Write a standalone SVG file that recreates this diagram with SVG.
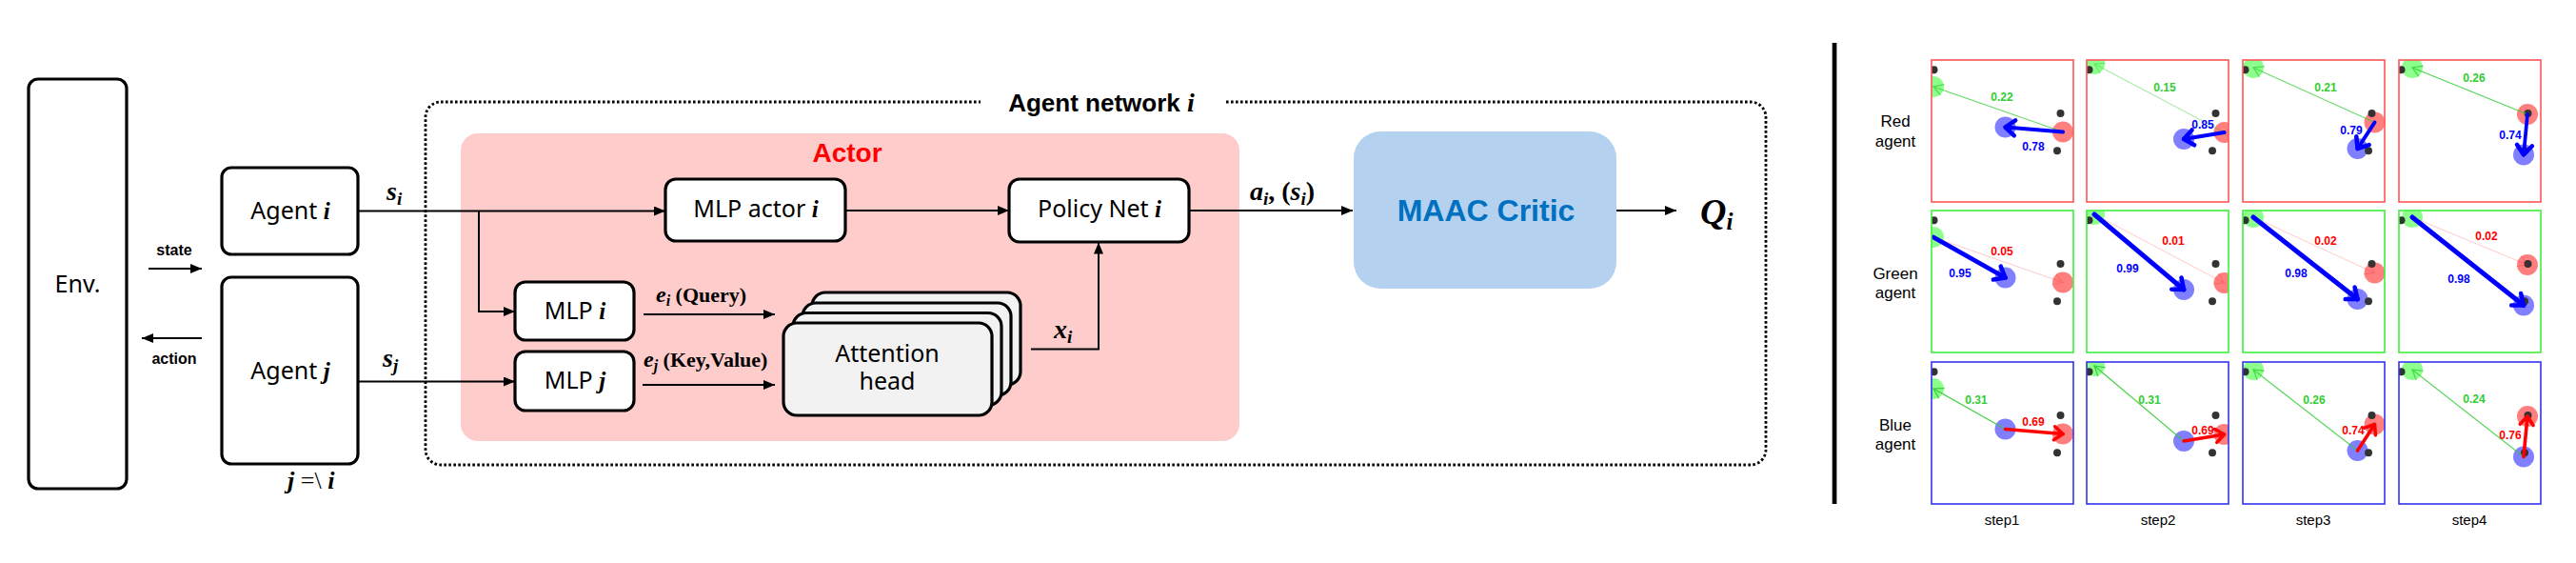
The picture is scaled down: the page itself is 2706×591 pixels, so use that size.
<svg xmlns="http://www.w3.org/2000/svg" width="2706" height="591" viewBox="0 0 2706 591">
<style>
.bx{fill:#fff;stroke:#000;stroke-width:3.2}
.nl{font-family:"Noto Sans","Liberation Sans",sans-serif;font-size:25px;fill:#000}
.mi{font-family:"Liberation Serif",serif;font-style:italic;font-weight:bold}
.mr{font-family:"Liberation Serif",serif;font-weight:bold}
.cn{fill:none;stroke:#000;stroke-width:2}
.sl{font-family:"Liberation Sans",sans-serif;font-weight:bold;font-size:16px;fill:#000}
.rl{font-family:"Liberation Sans",sans-serif;font-size:17px;fill:#000;text-anchor:middle}
.st{font-family:"Liberation Sans",sans-serif;font-size:15px;fill:#000;text-anchor:middle}
.lb{font-family:"Liberation Sans",sans-serif;font-weight:bold;font-size:12px;text-anchor:middle}
.att{fill:#f2f2f2;stroke:#000;stroke-width:3.2}
.G{fill:#00ff00;fill-opacity:.45}
.B{fill:#0000ff;fill-opacity:.5}
.R{fill:#ff0000;fill-opacity:.5}
.L{fill:#333}
.ab{fill:none;stroke:#0000ff;stroke-linecap:round;marker-end:url(#mb)}
.ag{fill:none;stroke:#33cc33;stroke-width:1.2;marker-end:url(#mg)}
.ar{fill:none;stroke:#ff0000;stroke-width:3.6;stroke-linecap:round;marker-end:url(#mr)}
.af{fill:none;stroke:#ff0000;stroke-width:1;marker-end:url(#mf)}
.cR{fill:none;stroke:#ff5555;stroke-width:1.6}
.cG{fill:none;stroke:#3cf03c;stroke-width:1.6}
.cB{fill:none;stroke:#3333ee;stroke-width:1.6}
.tg{fill:#33cc33}.tb{fill:#0000ff}.tr{fill:#ff0000}
</style>
<defs>
<marker id="ah" viewBox="0 0 12 10" refX="12" refY="5" markerWidth="12" markerHeight="10" markerUnits="userSpaceOnUse" orient="auto"><path d="M0,0 L12,5 L0,10 z" fill="#000"/></marker>
<marker id="mb" markerUnits="userSpaceOnUse" orient="auto" refX="0" refY="0" markerWidth="30" markerHeight="30" style="overflow:visible"><path d="M-10,-8 L0,0 L-10,8" fill="none" stroke="#0000ff" stroke-width="4.5" stroke-linejoin="round" stroke-linecap="round"/></marker>
<marker id="mg" markerUnits="userSpaceOnUse" orient="auto" refX="0" refY="0" markerWidth="30" markerHeight="30" style="overflow:visible"><path d="M-10,-6 L0,0 L-10,6" fill="none" stroke="#33cc33" stroke-width="1.2"/></marker>
<marker id="mr" markerUnits="userSpaceOnUse" orient="auto" refX="0" refY="0" markerWidth="30" markerHeight="30" style="overflow:visible"><path d="M-9,-7 L0,0 L-9,7" fill="none" stroke="#ff0000" stroke-width="3.5" stroke-linejoin="round" stroke-linecap="round"/></marker>
<marker id="mf" markerUnits="userSpaceOnUse" orient="auto" refX="0" refY="0" markerWidth="30" markerHeight="30" style="overflow:visible"><path d="M-10,-6 L0,0 L-10,6" fill="none" stroke="#ff0000" stroke-width="1"/></marker>
<clipPath id="cc"><rect x="0" y="0" width="149" height="149"/></clipPath>
</defs>
<rect width="2706" height="591" fill="#fff"/>

<!-- Agent network container -->
<g id="agent-network">
<rect x="447" y="107" width="1408" height="381" rx="16" fill="none" stroke="#000" stroke-width="2.8" stroke-dasharray="2.6 2.4"/>
<rect x="1030" y="94" width="257" height="28" fill="#fff"/>
<text x="1157" y="117" text-anchor="middle" font-family="Liberation Sans,sans-serif" font-weight="bold" font-size="26">Agent network <tspan class="mi" font-size="28">i</tspan></text>
</g>

<g id="actor">
<rect x="484" y="140" width="818" height="323" rx="18" fill="#ffcccc"/>
<text x="890" y="170" text-anchor="middle" font-family="Liberation Sans,sans-serif" font-weight="bold" font-size="28" fill="#ff0000">Actor</text>
</g>

<g id="env"><rect class="bx" x="30" y="83" width="103" height="430" rx="10"/><text class="nl" x="81.5" y="307" text-anchor="middle" font-size="27">Env.</text></g>
<g id="agent-i"><rect class="bx" x="233" y="176" width="143" height="91" rx="10"/><text class="nl" x="305" y="230" text-anchor="middle" font-size="27">Agent <tspan class="mi">i</tspan></text></g>
<g id="agent-j"><rect class="bx" x="233" y="291" width="143" height="196" rx="10"/><text class="nl" x="305" y="398" text-anchor="middle" font-size="27">Agent <tspan class="mi">j</tspan></text></g>
<g id="mlp-actor"><rect class="bx" x="699" y="188" width="189" height="65" rx="11"/><text class="nl" x="794" y="228" text-anchor="middle">MLP actor <tspan class="mi">i</tspan></text></g>
<g id="policy"><rect class="bx" x="1060" y="188" width="189" height="66" rx="11"/><text class="nl" x="1155" y="228" text-anchor="middle">Policy Net <tspan class="mi">i</tspan></text></g>
<g id="mlp-i"><rect class="bx" x="541" y="296" width="125" height="61" rx="11"/><text class="nl" x="604" y="335" text-anchor="middle">MLP <tspan class="mi">i</tspan></text></g>
<g id="mlp-j"><rect class="bx" x="541" y="369" width="125" height="62" rx="11"/><text class="nl" x="604" y="408" text-anchor="middle">MLP <tspan class="mi">j</tspan></text></g>
<g id="attention">
<rect class="att" x="853" y="307" width="219" height="97" rx="14"/>
<rect class="att" x="843" y="318" width="219" height="97" rx="14"/>
<rect class="att" x="833" y="328.5" width="219" height="97" rx="14"/>
<rect class="att" x="823" y="339" width="219" height="97" rx="14"/>
<text class="nl" x="932" y="380" text-anchor="middle" font-size="24.5">Attention</text>
<text class="nl" x="932" y="409" text-anchor="middle" font-size="24.5">head</text>
</g>
<g id="critic"><rect x="1422" y="138" width="276" height="165" rx="28" fill="#b4d2f0"/><text x="1561" y="232" text-anchor="middle" font-family="Liberation Sans,sans-serif" font-weight="bold" font-size="32" fill="#0070c0">MAAC Critic</text></g>

<g id="connectors">
<path class="cn" d="M156,282 H212" marker-end="url(#ah)"/>
<path class="cn" d="M212,355 H149" marker-end="url(#ah)"/>
<path class="cn" d="M376,221.5 H699" marker-end="url(#ah)"/>
<path class="cn" d="M503,221.5 V327 H541" marker-end="url(#ah)"/>
<path class="cn" d="M376,400.5 H541" marker-end="url(#ah)"/>
<path class="cn" d="M676,330 H814" marker-end="url(#ah)"/>
<path class="cn" d="M675,404 H814" marker-end="url(#ah)"/>
<path class="cn" d="M888,221 H1060" marker-end="url(#ah)"/>
<path class="cn" d="M1083,366.5 H1154 V254.5" marker-end="url(#ah)"/>
<path class="cn" d="M1249,221 H1421" marker-end="url(#ah)"/>
<path class="cn" d="M1698,221 H1761" marker-end="url(#ah)"/>
</g>

<g id="labels">
<text class="sl" x="183" y="268" text-anchor="middle">state</text>
<text class="sl" x="183" y="382" text-anchor="middle">action</text>
<text x="406" y="210" font-size="28"><tspan class="mi">s</tspan><tspan class="mi" font-size="19" dy="5">i</tspan></text>
<text x="402" y="385" font-size="28"><tspan class="mi">s</tspan><tspan class="mi" font-size="19" dy="5">j</tspan></text>
<text x="302" y="513" font-size="26" font-family="Liberation Serif,serif"><tspan font-style="italic" font-weight="bold">j</tspan> =\ <tspan font-style="italic" font-weight="bold">i</tspan></text>
<text x="689" y="317" font-size="24"><tspan class="mi">e</tspan><tspan class="mi" font-size="16" dy="4">i</tspan><tspan class="mr" font-size="22" dy="-4"> (Query)</tspan></text>
<text x="676" y="385" font-size="24"><tspan class="mi">e</tspan><tspan class="mi" font-size="16" dy="4">j</tspan><tspan class="mr" font-size="22" dy="-4"> (Key,Value)</tspan></text>
<text x="1107" y="355" font-size="28"><tspan class="mi">x</tspan><tspan class="mi" font-size="19" dy="5">i</tspan></text>
<text x="1313" y="210" font-size="28"><tspan class="mi">a</tspan><tspan class="mi" font-size="19" dy="5">i</tspan><tspan class="mr" dy="-5">, (</tspan><tspan class="mi">s</tspan><tspan class="mi" font-size="19" dy="5">i</tspan><tspan class="mr" dy="-5">)</tspan></text>
<text x="1786" y="235" font-size="38"><tspan class="mi">Q</tspan><tspan class="mi" font-size="25" dy="6">i</tspan></text>
</g>

<!-- Right panel -->
<rect id="divider" x="1924.7" y="45" width="4.7" height="484" fill="#000"/>
<g id="row-labels">
<text class="rl" x="1991" y="133">Red</text><text class="rl" x="1991" y="154">agent</text>
<text class="rl" x="1991" y="293">Green</text><text class="rl" x="1991" y="313">agent</text>
<text class="rl" x="1991" y="452">Blue</text><text class="rl" x="1991" y="472">agent</text>
<text class="st" x="2103" y="551">step1</text>
<text class="st" x="2267" y="551">step2</text>
<text class="st" x="2430" y="551">step3</text>
<text class="st" x="2594" y="551">step4</text>
</g>

<!-- Red row -->
<g id="red-step1" transform="translate(2029,63)">
<g clip-path="url(#cc)">
<circle class="G" cx="2" cy="28" r="11"/><circle class="B" cx="77.5" cy="70.5" r="11"/><circle class="R" cx="138" cy="75.5" r="11"/>
<circle class="L" cx="2.5" cy="10.3" r="4"/><circle class="L" cx="135.5" cy="56" r="4"/><circle class="L" cx="132" cy="95.3" r="4"/>
<g opacity=".7"><path class="ag" d="M138,75.5 L2,28"/></g>
<path class="ab" stroke-width="4" d="M138,75.5 L77.5,70.5"/>
</g>
<rect class="cR" width="149" height="149"/>
<text class="lb tg" x="74" y="43">0.22</text><text class="lb tb" x="107" y="94.5">0.78</text>
</g>
<g id="red-step2" transform="translate(2192,63)">
<g clip-path="url(#cc)">
<circle class="G" cx="8" cy="4" r="11"/><circle class="B" cx="102" cy="83" r="11"/><circle class="R" cx="144.5" cy="76" r="11"/>
<circle class="L" cx="2.5" cy="10.3" r="4"/><circle class="L" cx="135.5" cy="56" r="4"/><circle class="L" cx="132" cy="95.3" r="4"/>
<g opacity=".4"><path class="ag" d="M144.5,76 L8,4"/></g>
<path class="ab" stroke-width="4.2" d="M144.5,76 L102,83"/>
</g>
<rect class="cR" width="149" height="149"/>
<text class="lb tg" x="82" y="33">0.15</text><text class="lb tb" x="122" y="72">0.85</text>
</g>
<g id="red-step3" transform="translate(2356,63)">
<g clip-path="url(#cc)">
<circle class="G" cx="11" cy="8" r="11"/><circle class="B" cx="120.5" cy="93" r="11"/><circle class="R" cx="138.5" cy="65.5" r="11"/>
<circle class="L" cx="2.5" cy="10.3" r="4"/><circle class="L" cx="135.5" cy="56" r="4"/><circle class="L" cx="132" cy="95.3" r="4"/>
<g opacity=".7"><path class="ag" d="M138.5,65.5 L11,8"/></g>
<path class="ab" stroke-width="4" d="M138.5,65.5 L120.5,93"/>
</g>
<rect class="cR" width="149" height="149"/>
<text class="lb tg" x="87" y="33">0.21</text><text class="lb tb" x="114" y="78">0.79</text>
</g>
<g id="red-step4" transform="translate(2520,63)">
<g clip-path="url(#cc)">
<circle class="G" cx="14" cy="8" r="11"/><circle class="B" cx="131" cy="99.5" r="11"/><circle class="R" cx="135" cy="57" r="11"/>
<circle class="L" cx="2.5" cy="10.3" r="4"/><circle class="L" cx="135.5" cy="56" r="4"/><circle class="L" cx="132" cy="95.3" r="4"/>
<g opacity=".8"><path class="ag" d="M135,57 L14,8"/></g>
<path class="ab" stroke-width="3.7" d="M135,57 L131,99.5"/>
</g>
<rect class="cR" width="149" height="149"/>
<text class="lb tg" x="79" y="23">0.26</text><text class="lb tb" x="117" y="83">0.74</text>
</g>

<!-- Green row -->
<g id="green-step1" transform="translate(2029,221)">
<g clip-path="url(#cc)">
<circle class="G" cx="2" cy="28" r="11"/><circle class="B" cx="77.5" cy="70.5" r="11"/><circle class="R" cx="138" cy="75.5" r="11"/>
<circle class="L" cx="2.5" cy="10.3" r="4"/><circle class="L" cx="135.5" cy="56" r="4"/><circle class="L" cx="132" cy="95.3" r="4"/>
<g opacity=".2"><path class="af" d="M2,28 L138,75.5"/></g>
<path class="ab" stroke-width="4.8" d="M2,28 L77.5,70.5"/>
</g>
<rect class="cG" width="149" height="149"/>
<text class="lb tr" x="74" y="46.5">0.05</text><text class="lb tb" x="30" y="70">0.95</text>
</g>
<g id="green-step2" transform="translate(2192,221)">
<g clip-path="url(#cc)">
<circle class="G" cx="8" cy="4" r="11"/><circle class="B" cx="102" cy="83" r="11"/><circle class="R" cx="144.5" cy="76" r="11"/>
<circle class="L" cx="2.5" cy="10.3" r="4"/><circle class="L" cx="135.5" cy="56" r="4"/><circle class="L" cx="132" cy="95.3" r="4"/>
<g opacity=".2"><path class="af" d="M8,4 L144.5,76"/></g>
<path class="ab" stroke-width="5" d="M8,4 L102,83"/>
</g>
<rect class="cG" width="149" height="149"/>
<text class="lb tr" x="91" y="36">0.01</text><text class="lb tb" x="43" y="65">0.99</text>
</g>
<g id="green-step3" transform="translate(2356,221)">
<g clip-path="url(#cc)">
<circle class="G" cx="11" cy="7" r="11"/><circle class="B" cx="120.5" cy="93" r="11"/><circle class="R" cx="138.5" cy="65.5" r="11"/>
<circle class="L" cx="2.5" cy="10.3" r="4"/><circle class="L" cx="135.5" cy="56" r="4"/><circle class="L" cx="132" cy="95.3" r="4"/>
<g opacity=".2"><path class="af" d="M11,7 L138.5,65.5"/></g>
<path class="ab" stroke-width="5" d="M11,7 L120.5,93"/>
</g>
<rect class="cG" width="149" height="149"/>
<text class="lb tr" x="87" y="36">0.02</text><text class="lb tb" x="56" y="70">0.98</text>
</g>
<g id="green-step4" transform="translate(2520,221)">
<g clip-path="url(#cc)">
<circle class="G" cx="14" cy="7" r="11"/><circle class="B" cx="131" cy="99.5" r="11"/><circle class="R" cx="135" cy="57" r="11"/>
<circle class="L" cx="2.5" cy="10.3" r="4"/><circle class="L" cx="135.5" cy="56" r="4"/><circle class="L" cx="132" cy="95.3" r="4"/>
<g opacity=".2"><path class="af" d="M14,7 L135,57"/></g>
<path class="ab" stroke-width="5" d="M14,7 L131,99.5"/>
</g>
<rect class="cG" width="149" height="149"/>
<text class="lb tr" x="92" y="31">0.02</text><text class="lb tb" x="63" y="76">0.98</text>
</g>

<!-- Blue row -->
<g id="blue-step1" transform="translate(2029,380)">
<g clip-path="url(#cc)">
<circle class="G" cx="2" cy="28" r="11"/><circle class="B" cx="77.5" cy="70.5" r="11"/><circle class="R" cx="138" cy="75.5" r="11"/>
<circle class="L" cx="2.5" cy="10.3" r="4"/><circle class="L" cx="135.5" cy="56" r="4"/><circle class="L" cx="132" cy="95.3" r="4"/>
<g opacity=".9"><path class="ag" d="M77.5,70.5 L2,28"/></g>
<path class="ar" d="M77.5,70.5 L138,75.5"/>
</g>
<rect class="cB" width="149" height="149"/>
<text class="lb tg" x="47" y="43.5">0.31</text><text class="lb tr" x="107" y="67">0.69</text>
</g>
<g id="blue-step2" transform="translate(2192,380)">
<g clip-path="url(#cc)">
<circle class="G" cx="8" cy="4" r="11"/><circle class="B" cx="102" cy="83" r="11"/><circle class="R" cx="144.5" cy="76" r="11"/>
<circle class="L" cx="2.5" cy="10.3" r="4"/><circle class="L" cx="135.5" cy="56" r="4"/><circle class="L" cx="132" cy="95.3" r="4"/>
<g opacity=".9"><path class="ag" d="M102,83 L8,4"/></g>
<path class="ar" d="M102,83 L144.5,76"/>
</g>
<rect class="cB" width="149" height="149"/>
<text class="lb tg" x="66" y="43.5">0.31</text><text class="lb tr" x="122" y="76">0.69</text>
</g>
<g id="blue-step3" transform="translate(2356,380)">
<g clip-path="url(#cc)">
<circle class="G" cx="11" cy="8" r="11"/><circle class="B" cx="120.5" cy="93" r="11"/><circle class="R" cx="138.5" cy="65.5" r="11"/>
<circle class="L" cx="2.5" cy="10.3" r="4"/><circle class="L" cx="135.5" cy="56" r="4"/><circle class="L" cx="132" cy="95.3" r="4"/>
<g opacity=".8"><path class="ag" d="M120.5,93 L11,8"/></g>
<path class="ar" d="M120.5,93 L138.5,65.5"/>
</g>
<rect class="cB" width="149" height="149"/>
<text class="lb tg" x="75" y="43.5">0.26</text><text class="lb tr" x="116" y="76">0.74</text>
</g>
<g id="blue-step4" transform="translate(2520,380)">
<g clip-path="url(#cc)">
<circle class="G" cx="14" cy="8" r="11"/><circle class="B" cx="131" cy="99.5" r="11"/><circle class="R" cx="135" cy="57" r="11"/>
<circle class="L" cx="2.5" cy="10.3" r="4"/><circle class="L" cx="135.5" cy="56" r="4"/><circle class="L" cx="132" cy="95.3" r="4"/>
<g opacity=".8"><path class="ag" d="M131,99.5 L14,8"/></g>
<path class="ar" d="M131,99.5 L135,57"/>
</g>
<rect class="cB" width="149" height="149"/>
<text class="lb tg" x="79" y="42.5">0.24</text><text class="lb tr" x="117" y="81">0.76</text>
</g>
</svg>
